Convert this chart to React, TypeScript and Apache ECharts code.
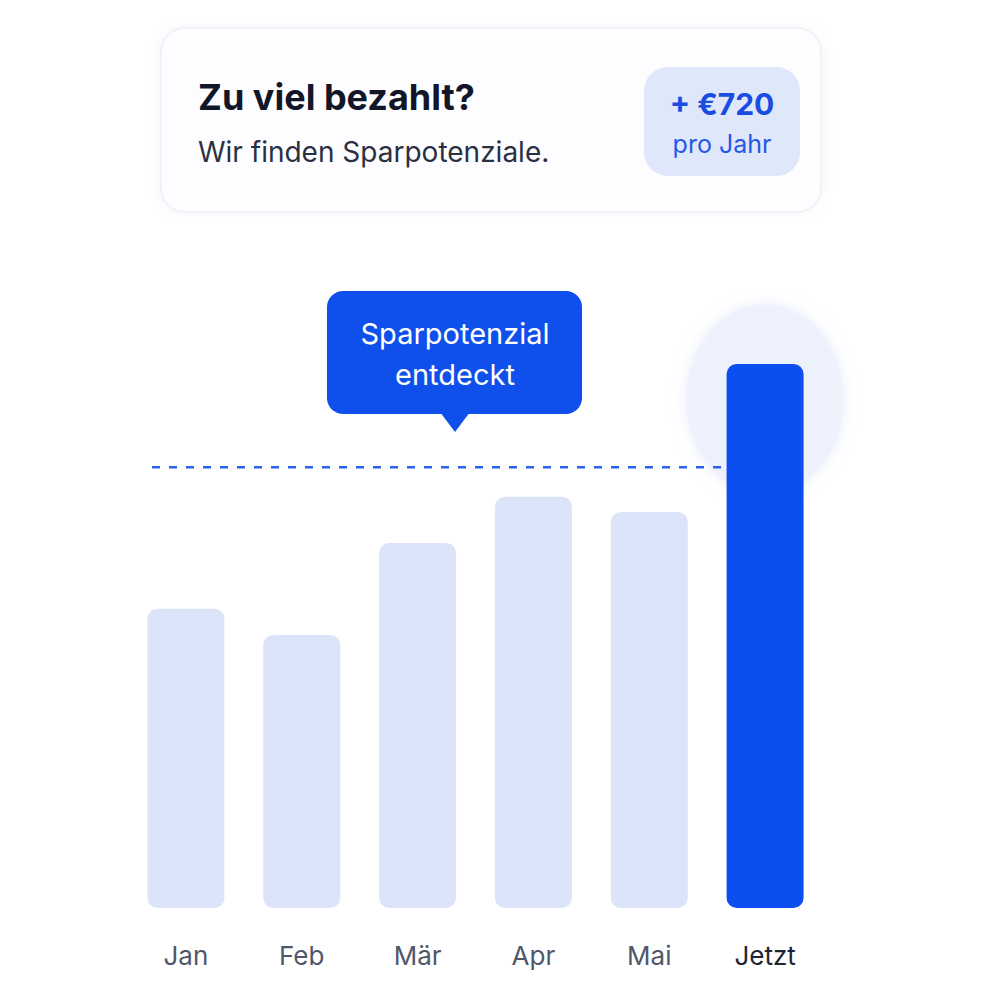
import React, { useEffect, useRef } from "react";
import * as echarts from "echarts";

const categories = ["Jan", "Feb", "Mär", "Apr", "Mai", "Jetzt"];
const pastValues = [55, 50.2, 67.1, 75.6, 72.8, null];
const currentValues = [null, null, null, null, null, 100];
const thresholdValue = 81;
const glowValue = 93.5;
const titleText = "Zu viel bezahlt?";
const subtitleText = "Wir finden Sparpotenziale.";
const badgeAmount = "+ €720";
const badgeUnit = "pro Jahr";
const calloutLines = ["Sparpotenzial", "entdeckt"];

const FONT = "Inter, 'Noto Sans', sans-serif";

export default function App() {
  const ref = useRef<HTMLDivElement>(null);
  useEffect(() => {
    if (!ref.current) return;
    const chart = echarts.init(ref.current, undefined, { renderer: "svg" });
    const lastIdx = categories.length - 1;
    chart.setOption({
      animation: false,
      backgroundColor: "#ffffff",
      grid: { left: 128, right: 177, top: 364, bottom: 92 },
      xAxis: [
        {
          type: "category",
          data: categories,
          axisLine: { show: false },
          axisTick: { show: false },
          axisLabel: {
            interval: 0,
            margin: 34,
            fontSize: 26,
            fontFamily: FONT,
            formatter: (v: string, i: number) =>
              i === lastIdx ? `{now|${v}}` : `{past|${v}}`,
            rich: {
              past: { fontSize: 26, color: "#50576a", fontFamily: FONT },
              now: { fontSize: 26, color: "#1e2434", fontFamily: FONT },
            },
          },
        },
        { type: "value", min: 0, max: 6, show: false, gridIndex: 0 },
      ],
      yAxis: { type: "value", min: 0, max: 100, show: false },
      graphic: [
        {
          type: "rect",
          shape: { x: 161, y: 28, width: 660, height: 184, r: 24 },
          style: {
            fill: "#fdfdff",
            stroke: "#eceff6",
            lineWidth: 1.5,
            shadowBlur: 12,
            shadowColor: "rgba(120,130,170,0.10)",
          },
          z: 0,
        },
        {
          type: "text",
          x: 198,
          y: 97,
          style: {
            text: titleText,
            font: `bold 36px ${FONT}`,
            fill: "#111729",
            verticalAlign: "middle",
          },
          z: 1,
        },
        {
          type: "text",
          x: 198,
          y: 152,
          style: {
            text: subtitleText,
            font: `28px ${FONT}`,
            fill: "#2a3042",
            verticalAlign: "middle",
          },
          z: 1,
        },
        {
          type: "rect",
          shape: { x: 644, y: 67, width: 156, height: 109, r: 24 },
          style: { fill: "#dfe7fb" },
          z: 1,
        },
        {
          type: "text",
          x: 722,
          y: 104,
          style: {
            text: badgeAmount,
            font: `bold 30px ${FONT}`,
            fill: "#1a4ce2",
            align: "center",
            verticalAlign: "middle",
          },
          z: 2,
        },
        {
          type: "text",
          x: 722,
          y: 144,
          style: {
            text: badgeUnit,
            font: `25px ${FONT}`,
            fill: "#2557e6",
            align: "center",
            verticalAlign: "middle",
          },
          z: 2,
        },
        {
          type: "rect",
          shape: { x: 327, y: 291, width: 255, height: 123, r: 16 },
          style: { fill: "#0f4fec" },
          z: 5,
        },
        {
          type: "polygon",
          shape: { points: [[440, 412], [470, 412], [455, 432]] },
          style: { fill: "#0f4fec" },
          z: 5,
        },
        {
          type: "text",
          x: 455,
          y: 333,
          style: {
            text: calloutLines[0],
            font: `29px ${FONT}`,
            fill: "#ffffff",
            align: "center",
            verticalAlign: "middle",
          },
          z: 6,
        },
        {
          type: "text",
          x: 455,
          y: 374,
          style: {
            text: calloutLines[1],
            font: `29px ${FONT}`,
            fill: "#ffffff",
            align: "center",
            verticalAlign: "middle",
          },
          z: 6,
        },
      ],
      series: [
        {
          type: "scatter",
          data: categories.map((c, i) => (i === lastIdx ? glowValue : null)),
          symbol: "circle",
          symbolSize: [158, 190],
          itemStyle: {
            color: "#edf1fc",
            shadowBlur: 14,
            shadowColor: "rgba(205,216,245,0.55)",
          },
          silent: true,
          z: 1,
        },
        {
          type: "line",
          xAxisIndex: 1,
          data: [
            [0.207, thresholdValue],
            [5.5, thresholdValue],
          ],
          symbol: "none",
          lineStyle: { color: "#2d62ee", width: 2.5, type: [8, 9] },
          z: 2,
        },
        {
          type: "bar",
          data: pastValues,
          barWidth: 77,
          itemStyle: { color: "#dbe4f9", borderRadius: 10 },
          z: 3,
        },
        {
          type: "bar",
          data: currentValues,
          barWidth: 77,
          barGap: "-100%",
          itemStyle: { color: "#0c4ef0", borderRadius: 10 },
          z: 4,
        },
      ],
    });
    return () => chart.dispose();
  }, []);
  return (
    <div
      ref={ref}
      style={{ position: "fixed", left: 0, top: 0, width: 1000, height: 1000 }}
    />
  );
}
